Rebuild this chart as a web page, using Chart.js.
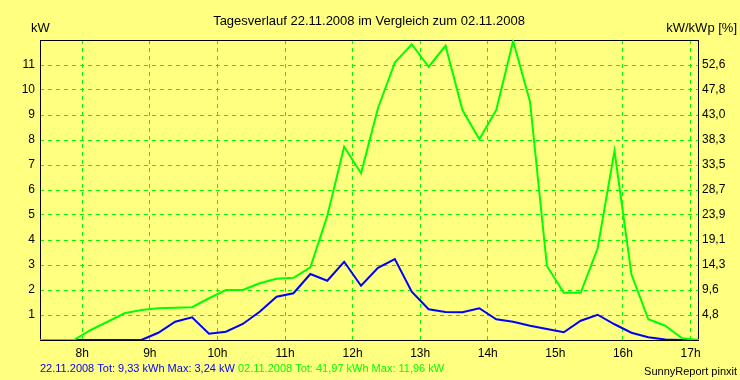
<!DOCTYPE html>
<html lang="de">
<head>
  <meta charset="UTF-8">
  <title>Tagesverlauf 22.11.2008</title>
  <style>
    body { margin: 0; background: #ffff80; }
    canvas { display: block; }
  </style>
</head>
<body>
<canvas id="myChart" width="740" height="380"></canvas>

<script src="https://cdn.jsdelivr.net/npm/chart.js@4/dist/chart.umd.min.js"></script>
<script>
  // Zeitpunkte (Stunden, Mitte der Viertelstunde)
  const hours = [7.375, 7.625, 7.875, 8.125, 8.375, 8.625, 8.875, 9.125, 9.375, 9.625,
                 9.875, 10.125, 10.375, 10.625, 10.875, 11.125, 11.375, 11.625, 11.875, 12.125,
                 12.375, 12.625, 12.875, 13.125, 13.375, 13.625, 13.875, 14.125, 14.375, 14.625,
                 14.875, 15.125, 15.375, 15.625, 15.875, 16.125, 16.375, 16.625, 16.875, 17.125]

  // kW am 22.11.2008
  const power2211 = [0, 0, 0, 0, 0, 0, 0, 0.29, 0.73, 0.91,
                     0.25, 0.33, 0.64, 1.13, 1.73, 1.87, 2.64, 2.37, 3.13, 2.17,
                     2.89, 3.24, 1.93, 1.23, 1.12, 1.11, 1.27, 0.83, 0.73, 0.57,
                     0.44, 0.31, 0.77, 1.01, 0.63, 0.29, 0.11, 0.02, 0, 0]

  // kW am 02.11.2008
  const power0211 = [0, 0, 0, 0.4, 0.73, 1.07, 1.2, 1.27, 1.29, 1.31,
                     1.67, 2.0, 2.0, 2.27, 2.45, 2.49, 2.91, 4.96, 7.73, 6.67,
                     9.27, 11.1, 11.83, 10.93, 11.77, 9.2, 8.03, 9.2, 11.96, 9.53,
                     2.96, 1.89, 1.89, 3.67, 7.57, 2.63, 0.83, 0.57, 0.07, 0]

  const xTickHours = [8, 9, 10, 11, 12, 13, 14, 15, 16, 17]
  const xTickLabels = ['8h', '9h', '10h', '11h', '12h', '13h', '14h', '15h', '16h', '17h']
  const leftTickLabels = ['', '1', '2', '3', '4', '5', '6', '7', '8', '9', '10', '11', '']
  const rightTickLabels = ['', '4,8', '9,6', '14,3', '19,1', '23,9', '28,7', '33,5', '38,3', '43,0', '47,8', '52,6', '']

  const bgColor = '#ffff80'
  const gridGreen = '#00ff00'
  const font = '"Liberation Sans", Arial, sans-serif'

  const ctx = document.getElementById('myChart');

  const frame = {
    id: 'frame',
    beforeDraw(chart) {
      const c = chart.ctx
      c.save()
      c.fillStyle = bgColor
      c.fillRect(0, 0, chart.width, chart.height)
      c.restore()
    },
    beforeDatasetsDraw(chart) {
      const a = chart.chartArea
      const c = chart.ctx
      c.save()
      c.strokeStyle = '#000'
      c.lineWidth = 1
      c.strokeRect(a.left + 0.5, a.top + 0.5, a.right - a.left - 1, a.bottom - a.top)
      c.restore()
    },
    afterDraw(chart) {
      const c = chart.ctx
      c.save()
      c.fillStyle = '#000'
      c.textBaseline = 'alphabetic'
      c.font = '13px ' + font
      c.textAlign = 'center'
      c.fillText('Tagesverlauf 22.11.2008 im Vergleich zum 02.11.2008', 369, 25)
      c.textAlign = 'left'
      c.fillText('kW', 31, 32)
      c.textAlign = 'right'
      c.fillText('kW/kWp [%]', 737, 32)

      c.font = '11px ' + font
      c.textAlign = 'left'
      const t1 = '22.11.2008 Tot: 9,33 kWh Max: 3,24 kW '
      c.fillStyle = '#0000ff'
      c.fillText(t1, 40, 372)
      c.fillStyle = '#00ff00'
      c.fillText('02.11.2008 Tot: 41,97 kWh Max: 11,96 kW', 40 + c.measureText(t1).width, 372)
      c.fillStyle = '#000'
      c.textAlign = 'right'
      c.fillText('SunnyReport pinxit', 737, 375)
      c.restore()
    }
  }

  const myChart = new Chart(ctx, {
    type: 'line',
    plugins: [frame],
    data: {
      datasets: [{
        label: '02.11.2008',
        data: hours.map((h, i) => ({ x: h, y: power0211[i] })),
        borderColor: '#00ff00',
        borderWidth: 2,
        pointRadius: 0,
        tension: 0,
        yAxisID: 'y'
      }, {
        label: '22.11.2008',
        data: hours.map((h, i) => ({ x: h, y: power2211[i] })),
        borderColor: '#0000ff',
        borderWidth: 2,
        pointRadius: 0,
        tension: 0,
        yAxisID: 'y'
      }]
    },
    options: {
      responsive: false,
      animation: false,
      devicePixelRatio: 1,
      layout: { padding: { top: 40, left: 0, right: 0, bottom: 0 } },
      plugins: {
        legend: { display: false },
        title: { display: false },
        tooltip: { enabled: false }
      },
      scales: {
        x: {
          type: 'linear',
          min: 7.375,
          max: 17.125,
          afterBuildTicks: scale => { scale.ticks = xTickHours.map(v => ({ value: v })) },
          afterFit: scale => { scale.height = 40 },
          ticks: {
            color: '#000',
            font: { family: font, size: 12 },
            padding: 6,
            maxRotation: 0,
            autoSkip: false,
            callback: (v) => xTickLabels[xTickHours.indexOf(v)]
          },
          grid: { color: gridGreen, lineWidth: 1, drawTicks: false },
          border: { display: false, dash: [4, 4] }
        },
        y: {
          position: 'left',
          min: 0,
          max: 12,
          afterFit: scale => { scale.width = 40 },
          ticks: {
            stepSize: 1,
            color: '#000',
            font: { family: font, size: 12 },
            padding: 5,
            callback: (v) => leftTickLabels[v]
          },
          grid: {
            color: c => (c.tick && (c.tick.value === 0 || c.tick.value === 12)) ? 'rgba(0,0,0,0)' : gridGreen,
            lineWidth: 1,
            drawTicks: false
          },
          border: { display: false, dash: [4, 4] }
        },
        y2: {
          position: 'right',
          min: 0,
          max: 12,
          afterFit: scale => { scale.width = 41 },
          ticks: {
            stepSize: 1,
            color: '#000',
            font: { family: font, size: 12 },
            padding: 3,
            callback: (v) => rightTickLabels[v]
          },
          grid: { display: false, drawTicks: false },
          border: { display: false }
        }
      }
    }
  })
</script>
</body>
</html>
